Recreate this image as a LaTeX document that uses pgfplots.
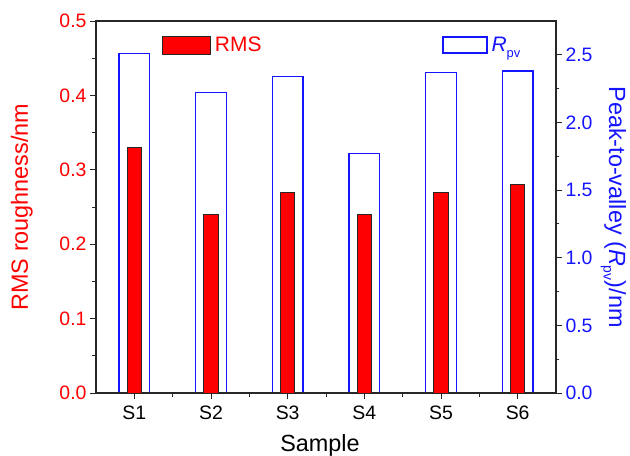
\documentclass[border=0pt]{standalone}
\usepackage{pgfplots}
\pgfplotsset{compat=1.18}
\usepackage{fontspec}
\setmainfont{Liberation Sans}
\definecolor{myred}{RGB}{255,0,0}
\definecolor{myblue}{RGB}{20,20,255}
\begin{document}
\begin{tikzpicture}
\pgfplotsset{
  common/.style={
    scale only axis, width=460bp, height=372bp,
    at={(0,0)}, anchor=south west,
    xmin=0.5, xmax=6.5,
    /pgf/number format/assume math mode=true,
    tick label style={font=\fontsize{19.5}{21}\selectfont},
    label style={font=\fontsize{23.5}{26}\selectfont},
    tick align=outside,
    major tick length=6bp, minor tick length=3.5bp,
    every tick/.style={black!85, line width=1pt},
    axis line style={black!85, line width=1.2pt},
  }
}
% Rpv axis (behind)
\begin{axis}[common,
  axis x line=none,
  axis y line*=right,
  ymin=0, ymax=2.75,
  ytick={0,0.5,1,1.5,2,2.5},
  minor ytick={0.25,0.75,1.25,1.75,2.25},
  yticklabel style={color=myblue, /pgf/number format/.cd, fixed, fixed zerofill, precision=1},
  ylabel={Peak-to-valley (\textit{R}\raisebox{-0.45ex}{\fontsize{14}{14}\selectfont pv})/nm},
  ylabel style={color=myblue, at={(axis description cs:1.125,0.5)}, rotate=180, anchor=center},
  legend style={draw=none, fill=none, at={(axis description cs:0.752,0.935)}, anchor=west,
    font=\fontsize{21}{22}\selectfont, text=myblue, inner sep=0pt,
    /tikz/every odd column/.append style={column sep=2bp}},
  legend image code/.code={\draw[#1, line width=1.5pt, draw=myblue, fill=white] (0bp,-8bp) rectangle (44bp,8bp);},
]
\addplot[ybar, bar width=0.4, draw=myblue, fill=white, line width=1.6pt, bar shift=0]
  coordinates {(1,2.51) (2,2.22) (3,2.34) (4,1.77) (5,2.37) (6,2.38)};
\addlegendentry{\textit{R}\raisebox{-0.55ex}{\fontsize{13}{13}\selectfont pv}}
\end{axis}
% RMS axis (front)
\begin{axis}[common,
  ymin=0, ymax=0.5,
  xtick={1,2,3,4,5,6},
  xticklabels={S1,S2,S3,S4,S5,S6},
  xticklabel style={yshift=-3bp},
  minor xtick={1.5,2.5,3.5,4.5,5.5},
  xtick pos=bottom, ytick pos=left,
  ytick={0,0.1,0.2,0.3,0.4,0.5},
  minor ytick={0.05,0.15,0.25,0.35,0.45},
  yticklabel style={color=myred, /pgf/number format/.cd, fixed, fixed zerofill, precision=1},
  ylabel={RMS roughness/nm},
  ylabel style={color=myred, at={(axis description cs:-0.161,0.5)}, anchor=center},
  xlabel={Sample},
  xlabel style={at={(axis description cs:0.487,-0.14)}, anchor=center},
  legend style={draw=none, fill=none, at={(axis description cs:0.143,0.935)}, anchor=west,
    font=\fontsize{21}{22}\selectfont, text=myred, inner sep=0pt,
    /tikz/every odd column/.append style={column sep=2bp}},
  legend image code/.code={\draw[#1, line width=1pt, draw=black!85, fill=myred] (0bp,-9bp) rectangle (48bp,9bp);},
]
\addplot[ybar, bar width=0.19, draw=black!85, fill=myred, line width=1pt, bar shift=0]
  coordinates {(1,0.33) (2,0.24) (3,0.27) (4,0.24) (5,0.27) (6,0.28)};
\addlegendentry{RMS}
\end{axis}
\pgfresetboundingbox
\path[use as bounding box] (-96bp,-63bp) rectangle (534bp,393bp);
\end{tikzpicture}
\end{document}
